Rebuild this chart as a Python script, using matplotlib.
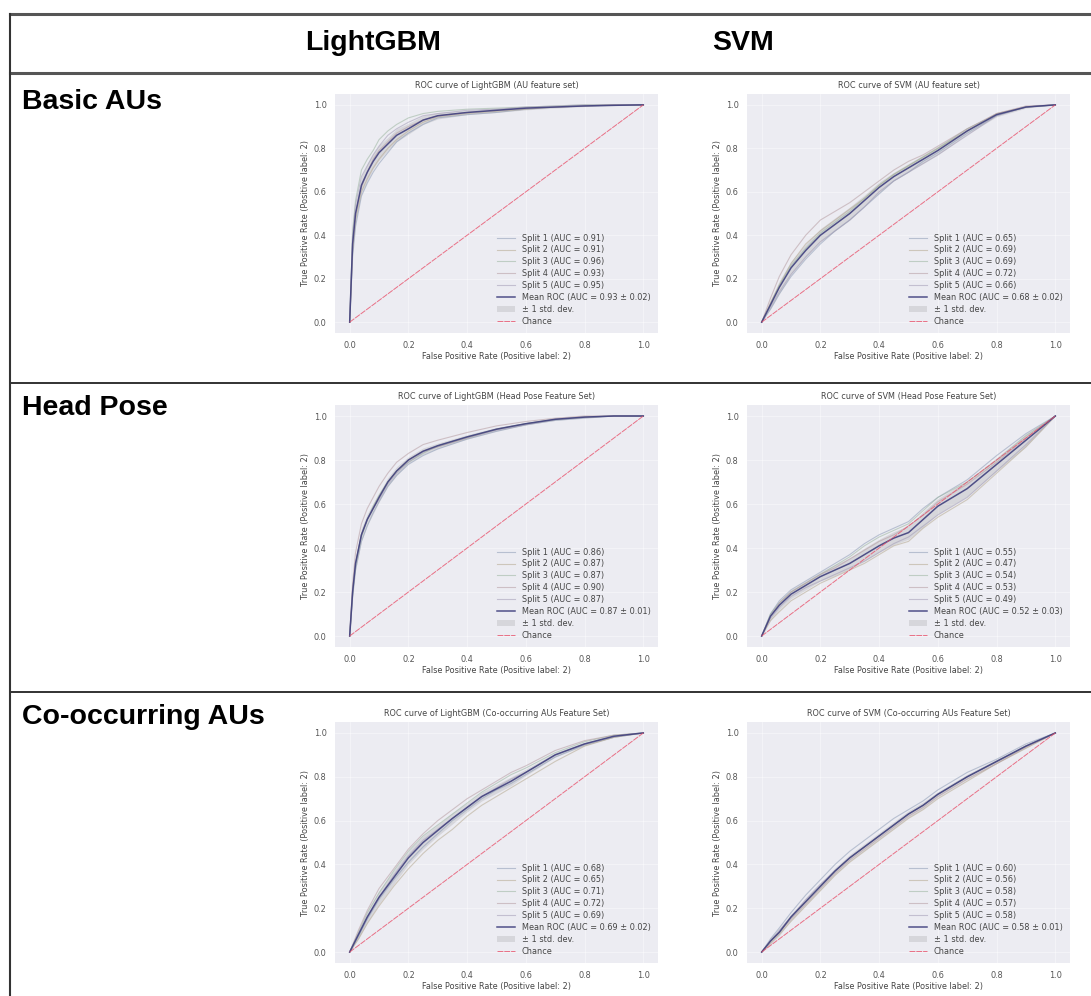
import numpy as np
import matplotlib
matplotlib.use("Agg")
import matplotlib.pyplot as plt
from matplotlib.lines import Line2D

# FPR grids
grid_a = [0, .01, .02, .04, .06, .08, .1, .13, .16, .2, .25, .3, .4, .5, .6, .7, .8, .9, 1]
grid_b = [0, .03, .06, .1, .15, .2, .25, .3, .35, .4, .45, .5, .55, .6, .7, .8, .9, 1]

# LightGBM - AU feature set
lgb_au_mean = [0, .36, .50, .63, .69, .74, .78, .82, .86, .89, .93, .95, .965, .975, .985, .99, .995, .998, 1]
lgb_au_std = [0, .04, .04, .04, .04, .035, .035, .03, .03, .025, .02, .015, .01, .01, .008, .005, .003, .002, 0]
lgb_au_splits = [
    [0, .30, .44, .58, .64, .69, .73, .78, .83, .87, .91, .94, .955, .965, .98, .99, .995, .998, 1],
    [0, .33, .47, .60, .66, .71, .75, .80, .84, .88, .92, .945, .96, .97, .98, .99, .995, 1, 1],
    [0, .42, .56, .70, .75, .79, .84, .88, .91, .94, .96, .97, .98, .985, .99, .995, 1, 1, 1],
    [0, .36, .50, .62, .69, .75, .79, .83, .87, .90, .93, .95, .965, .975, .985, .99, .995, 1, 1],
    [0, .40, .54, .67, .72, .77, .81, .86, .89, .92, .95, .96, .975, .98, .99, .995, 1, 1, 1],
]
lgb_au_auc = [0.91, 0.91, 0.96, 0.93, 0.95]

# SVM - AU feature set
svm_au_mean = [0, .08, .16, .25, .33, .40, .45, .50, .56, .62, .67, .71, .75, .79, .88, .955, .99, 1]
svm_au_std = [0, .02, .03, .03, .03, .03, .03, .03, .025, .025, .02, .02, .02, .02, .015, .01, .005, 0]
svm_au_splits = [
    [0, .06, .13, .21, .29, .36, .42, .47, .53, .59, .65, .69, .74, .78, .87, .95, .99, 1],
    [0, .09, .17, .27, .36, .42, .47, .52, .57, .63, .68, .72, .76, .80, .88, .96, .99, 1],
    [0, .08, .17, .26, .34, .41, .46, .51, .57, .63, .68, .72, .76, .80, .89, .955, .99, 1],
    [0, .11, .21, .31, .40, .47, .51, .55, .60, .65, .70, .74, .77, .81, .89, .96, .995, 1],
    [0, .07, .14, .22, .30, .37, .42, .47, .53, .60, .65, .69, .73, .77, .86, .95, .99, 1],
]
svm_au_auc = [0.65, 0.69, 0.69, 0.72, 0.66]

# LightGBM - Head Pose
lgb_hp_mean = [0, .20, .33, .46, .53, .58, .63, .70, .75, .80, .84, .865, .905, .94, .965, .985, .995, 1, 1]
lgb_hp_std = [0, .03, .03, .03, .025, .025, .02, .02, .02, .015, .015, .012, .01, .008, .006, .005, .003, 0, 0]
lgb_hp_splits = [
    [0, .18, .30, .43, .50, .56, .61, .68, .73, .78, .82, .85, .895, .93, .96, .98, .99, 1, 1],
    [0, .21, .33, .46, .53, .58, .63, .70, .75, .80, .84, .86, .90, .94, .965, .985, .995, 1, 1],
    [0, .19, .32, .45, .53, .59, .64, .70, .75, .79, .83, .865, .905, .94, .965, .985, .995, 1, 1],
    [0, .24, .38, .51, .58, .63, .68, .74, .79, .83, .87, .89, .925, .955, .975, .99, 1, 1, 1],
    [0, .20, .33, .46, .53, .58, .62, .69, .74, .79, .835, .86, .90, .935, .96, .985, .995, 1, 1],
]
lgb_hp_auc = [0.86, 0.87, 0.87, 0.90, 0.87]

# SVM - Head Pose
svm_hp_mean = [0, .09, .14, .19, .23, .27, .30, .33, .37, .41, .445, .47, .53, .59, .67, .78, .89, 1]
svm_hp_std = [0, .02, .02, .02, .02, .02, .025, .025, .03, .03, .03, .03, .035, .035, .035, .03, .03, 0]
svm_hp_splits = [
    [0, .10, .16, .21, .25, .29, .33, .37, .42, .46, .49, .52, .58, .63, .71, .82, .92, 1],
    [0, .07, .11, .16, .20, .24, .27, .30, .33, .37, .41, .43, .49, .54, .62, .74, .86, 1],
    [0, .10, .15, .20, .24, .28, .32, .36, .41, .45, .48, .51, .57, .63, .70, .80, .91, 1],
    [0, .09, .15, .20, .24, .28, .31, .35, .39, .43, .46, .50, .55, .61, .69, .79, .90, 1],
    [0, .08, .13, .18, .22, .25, .28, .31, .34, .38, .42, .45, .50, .55, .63, .75, .87, 1],
]
svm_hp_auc = [0.55, 0.47, 0.54, 0.53, 0.49]

# LightGBM - Co-occurring AUs
lgb_co_mean = [0, .08, .16, .25, .34, .43, .50, .555, .61, .66, .71, .745, .78, .82, .90, .95, .985, 1]
lgb_co_std = [0, .02, .025, .03, .03, .03, .03, .025, .025, .02, .02, .02, .02, .015, .01, .008, .004, 0]
lgb_co_splits = [
    [0, .07, .15, .24, .33, .41, .48, .54, .60, .65, .70, .74, .77, .81, .89, .945, .98, 1],
    [0, .06, .13, .21, .30, .38, .45, .51, .56, .62, .67, .71, .75, .79, .87, .94, .98, 1],
    [0, .09, .18, .27, .37, .46, .53, .58, .63, .68, .73, .77, .81, .84, .91, .96, .99, 1],
    [0, .10, .19, .29, .38, .47, .54, .60, .65, .70, .74, .78, .82, .85, .92, .965, .99, 1],
    [0, .08, .16, .25, .35, .44, .51, .56, .61, .66, .71, .75, .79, .82, .90, .95, .985, 1],
]
lgb_co_auc = [0.68, 0.65, 0.71, 0.72, 0.69]

# SVM - Co-occurring AUs
svm_co_mean = [0, .05, .09, .16, .23, .30, .37, .43, .48, .53, .58, .63, .67, .72, .80, .87, .94, 1]
svm_co_std = [0, .015, .015, .015, .015, .015, .015, .015, .015, .015, .015, .015, .015, .012, .012, .01, .008, 0]
svm_co_splits = [
    [0, .06, .11, .18, .26, .33, .40, .46, .51, .56, .61, .65, .69, .74, .82, .88, .95, 1],
    [0, .04, .08, .14, .21, .28, .35, .41, .46, .51, .56, .61, .65, .70, .78, .86, .93, 1],
    [0, .05, .09, .16, .23, .30, .37, .43, .48, .53, .58, .63, .67, .72, .80, .87, .94, 1],
    [0, .05, .09, .15, .22, .29, .36, .42, .47, .52, .57, .62, .66, .71, .79, .86, .935, 1],
    [0, .05, .10, .16, .24, .31, .37, .43, .48, .53, .58, .63, .67, .72, .80, .87, .94, 1],
]
svm_co_auc = [0.60, 0.56, 0.58, 0.57, 0.58]

panels = [
    ("ROC curve of LightGBM (AU feature set)", grid_a, lgb_au_mean, lgb_au_std, lgb_au_splits, lgb_au_auc, 0.93, 0.02),
    ("ROC curve of SVM (AU feature set)", grid_b, svm_au_mean, svm_au_std, svm_au_splits, svm_au_auc, 0.68, 0.02),
    ("ROC curve of LightGBM (Head Pose Feature Set)", grid_a, lgb_hp_mean, lgb_hp_std, lgb_hp_splits, lgb_hp_auc, 0.87, 0.01),
    ("ROC curve of SVM (Head Pose Feature Set)", grid_b, svm_hp_mean, svm_hp_std, svm_hp_splits, svm_hp_auc, 0.52, 0.03),
    ("ROC curve of LightGBM (Co-occurring AUs Feature Set)", grid_b, lgb_co_mean, lgb_co_std, lgb_co_splits, lgb_co_auc, 0.69, 0.02),
    ("ROC curve of SVM (Co-occurring AUs Feature Set)", grid_b, svm_co_mean, svm_co_std, svm_co_splits, svm_co_auc, 0.58, 0.01),
]

col_names = ["LightGBM", "SVM"]
row_names = ["Basic AUs", "Head Pose", "Co-occurring AUs"]

W, H = 1091, 996
fig = plt.figure(figsize=(W / 100, H / 100), dpi=100)

# axes boxes in pixels: left, top, right, bottom
col_x = [(335, 658), (747, 1070)]
row_y = [(94, 333), (405, 647), (722, 963)]

fs = 5.9
split_colors = ["#8c9bb5", "#b5a88f", "#9bb59f", "#b59ba0", "#a29bb5"]

for i, (title, fpr, mean, std, splits, aucs, m_auc, s_auc) in enumerate(panels):
    r, c = divmod(i, 2)
    x0, x1 = col_x[c]
    y0, y1 = row_y[r]
    ax = fig.add_axes([x0 / W, 1 - y1 / H, (x1 - x0) / W, (y1 - y0) / H])
    ax.set_facecolor("#ececf2")
    for s in ax.spines.values():
        s.set_visible(False)
    ax.grid(True, color="white", lw=0.5, alpha=0.6)
    ax.set_axisbelow(True)

    fpr = np.array(fpr)
    for k, tpr in enumerate(splits):
        ax.plot(fpr, tpr, color=split_colors[k], alpha=0.55, lw=0.8,
                label=f"Split {k + 1} (AUC = {aucs[k]:.2f})")
    mean = np.array(mean)
    std = np.array(std)
    ax.plot(fpr, mean, color="#40407e", lw=1.1, alpha=0.9,
            label=f"Mean ROC (AUC = {m_auc:.2f} \u00b1 {s_auc:.2f})")
    ax.fill_between(fpr, np.clip(mean - std, 0, 1), np.clip(mean + std, 0, 1),
                    color="grey", alpha=0.2, lw=0, label="\u00b1 1 std. dev.")
    ax.plot([0, 1], [0, 1], ls="--", dashes=(6, 1), color="#e8506a", lw=0.7, alpha=0.8, label="Chance")

    ax.set_xlim(-0.05, 1.05)
    ax.set_ylim(-0.05, 1.05)
    ax.set_xticks([0, .2, .4, .6, .8, 1.0])
    ax.set_yticks([0, .2, .4, .6, .8, 1.0])
    ax.tick_params(length=0, labelsize=fs, labelcolor="#555555", pad=6)
    ax.set_title(title, fontsize=fs, color="#444444", pad=4)
    ax.set_xlabel("False Positive Rate (Positive label: 2)", fontsize=fs, color="#444444", labelpad=1)
    ax.set_ylabel("True Positive Rate (Positive label: 2)", fontsize=fs, color="#444444", labelpad=3)
    ax.legend(loc="lower right", fontsize=fs, frameon=False, handlelength=2.2,
              labelspacing=0.35, labelcolor="#444444")

# table lines
fig.add_artist(Line2D([10 / W, 1], [1 - 14 / H] * 2, color="#555555", lw=2.2))
fig.add_artist(Line2D([10 / W, 1], [1 - 73 / H] * 2, color="#555555", lw=2.2))
fig.add_artist(Line2D([10 / W, 1], [1 - 383 / H] * 2, color="#222222", lw=1.3))
fig.add_artist(Line2D([10 / W, 1], [1 - 692 / H] * 2, color="#222222", lw=1.3))
fig.add_artist(Line2D([10 / W] * 2, [0, 1 - 14 / H], color="#333333", lw=1.5))

# header and row labels
fig.text(305 / W, 1 - 43 / H, col_names[0], fontsize=20.5, fontweight="bold",
         family="Liberation Sans", va="center", ha="left")
fig.text(712 / W, 1 - 43 / H, col_names[1], fontsize=20.5, fontweight="bold",
         family="Liberation Sans", va="center", ha="left")
for name, yc in zip(row_names, [102, 408, 717]):
    fig.text(22 / W, 1 - yc / H, name, fontsize=20.5, fontweight="bold",
             family="Liberation Sans", va="center", ha="left")

fig.savefig("out.png", dpi=100)
